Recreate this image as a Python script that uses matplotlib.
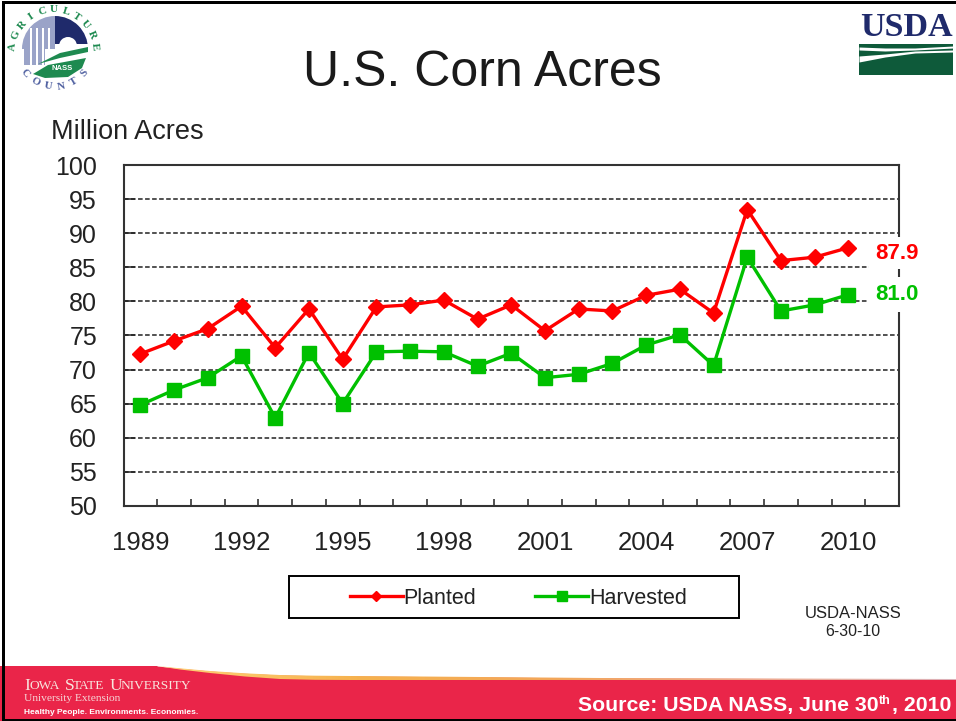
import matplotlib
matplotlib.use("Agg")
import matplotlib.pyplot as plt
import numpy as np
from matplotlib.patches import Circle, Polygon, Rectangle, Wedge

years = [str(y) for y in range(1989, 2011)]
planted = [72.3, 74.2, 76.0, 79.3, 73.2, 78.9, 71.5, 79.2, 79.5, 80.2, 77.4,
           79.5, 75.7, 78.9, 78.6, 80.9, 81.8, 78.3, 93.5, 86.0, 86.5, 87.9]
harvested = [64.8, 67.0, 68.8, 72.0, 62.9, 72.5, 65.0, 72.6, 72.7, 72.6, 70.5,
             72.4, 68.8, 69.3, 70.9, 73.6, 75.1, 70.6, 86.5, 78.6, 79.5, 81.0]
y_ticks = list(range(50, 101, 5))
x_label_every = 3
planted_label = "87.9"
harvested_label = "81.0"

RED = "#FF0000"
GREEN = "#00C000"
TEXT = "#222222"
NAVY = "#1F2A6B"
DARK_GREEN = "#0E5A3A"
LOGO_GREEN = "#1E8A50"
BAND = "#EA2549"
W, H = 956, 721

plt.rcParams["font.family"] = ["Liberation Sans", "DejaVu Sans"]
fig = plt.figure(figsize=(W / 100, H / 100), dpi=100, facecolor="white")

# overlay in pixel coordinates for the slide decoration
ov = fig.add_axes([0, 0, 1, 1], zorder=0)
ov.set_axis_off()


def arc_text(text, cx, cy, r, start, end, color, size):
    # angles in degrees, screen sense, 0 = up, clockwise positive
    for ch, a in zip(text, np.linspace(start, end, len(text))):
        t = np.radians(a)
        rot = -a if abs(a) < 90 else 180 - a
        ov.text(cx + r * np.sin(t), cy - r * np.cos(t), ch, color=color,
                fontsize=size, fontweight="bold", family="Liberation Serif",
                ha="center", va="center", rotation=rot)


# bottom band and swoosh
ov.add_patch(Rectangle((0, 666), W, 55, color=BAND, lw=0))
top_x = [157, 180, 210, 245, 280, 315, 350, 420, 600, 956]
top_y = [665] * len(top_x)
edge_y = [666, 668.3, 671, 673.3, 675, 675.7, 676, 676.5, 678, 679]
low_y = [666, 669.5, 673, 676.5, 679, 679.8, 680, 680, 680, 680]
ov.fill_between(top_x, top_y, edge_y, color="white", lw=0)
swoosh = Polygon(list(zip(top_x, edge_y)) + list(zip(top_x[::-1], low_y[::-1])),
                 closed=True, transform=ov.transData, fc="none", ec="none")
ov.add_patch(swoosh)
cmap = matplotlib.colors.LinearSegmentedColormap.from_list(
    "sw", ["#FFD27A", "#F6B24E", "#F3A65A", "#EFA98E", "#DDB0B8"])
grad = ov.imshow(np.linspace(0, 1, 256)[None, :], cmap=cmap, aspect="auto",
                 extent=(157, 956, 683, 665), zorder=1.5)
grad.set_clip_path(swoosh)

# Iowa State block
ISU = "#F8E6DE"
for s, px, big in [("I", 24, True), ("OWA", 30, False), ("S", 65, True), ("TATE", 73, False),
                   ("U", 110, True), ("NIVERSITY", 121, False)]:
    ov.text(px, 684.5, s, color=ISU, fontsize=12.5 if big else 9.6,
            family="Liberation Serif", va="center_baseline")
ov.text(24, 698.5, "University Extension", color="#F6D8D8", fontsize=8.2,
        family="Liberation Serif", va="center")
ov.text(24, 713, "Healthy People. Environments. Economies.", color="white",
        fontsize=6, fontweight="bold", va="center")

# source line
ov.text(879, 706, "Source: USDA NASS, June 30", color="white", fontsize=15.3,
        fontweight="bold", ha="right", va="center")
ov.text(879, 701.5, "th", color="white", fontsize=9, fontweight="bold",
        ha="left", va="center")
ov.text(951, 706, ", 2010", color="white", fontsize=15.3, fontweight="bold",
        ha="right", va="center")

# title and small texts
ov.text(482, 73, "U.S. Corn Acres", color="#1A1A1A", fontsize=36, ha="center", va="center")
ov.text(51, 132, "Million Acres", color=TEXT, fontsize=19.5, ha="left", va="center")
ov.text(853, 613, "USDA-NASS", color=TEXT, fontsize=12, ha="center", va="center")
ov.text(853, 632, "6-30-10", color=TEXT, fontsize=11.5, ha="center", va="center")

# USDA logo
ov.text(906.5, 28, "USDA", color=NAVY, fontsize=24.5, fontweight="bold",
        family="Liberation Serif", ha="center", va="center")
ov.add_patch(Rectangle((859, 44), 94, 31, color=DARK_GREEN, lw=0))
sw_x = np.array([859, 885, 915, 953])
ov.fill_between(sw_x, [47, 48, 48, 46], [50, 51, 50, 48], color="white", lw=0, zorder=1.6)
ov.fill_between(sw_x, [56, 54, 51, 50], [62, 57, 53, 52], color="white", lw=0, zorder=1.6)

# NASS logo
ov.add_patch(Circle((55, 49), 33, fc="white", ec="none"))
ov.add_patch(Wedge((55, 49), 33, 180, 270, fc="#9AA3C8", ec="none"))
ov.add_patch(Rectangle((24, 49), 21, 16, color="#9AA3C8", lw=0))
ov.add_patch(Wedge((55, 49), 33, 270, 360, fc=NAVY, ec="none"))
for bx in [30, 36, 42, 48]:
    ov.add_patch(Rectangle((bx, 28), 1.6, 38, color="white", lw=0, zorder=1.6))
ov.add_patch(Rectangle((55, 44), 34, 6, color="white", lw=0, zorder=1.6))
ov.add_patch(Wedge((68, 46), 9, 180, 360, fc="white", ec="none", zorder=1.6))
ov.add_patch(Polygon([(38, 64), (60, 53), (88, 47), (88, 52), (60, 58)], fc=LOGO_GREEN,
                     ec="none", zorder=1.7))
ov.add_patch(Polygon([(33, 74), (48, 65), (86, 58), (82, 68), (68, 77), (45, 78)],
                     fc=LOGO_GREEN, ec="none", zorder=1.7))
ov.text(62, 69, "NASS", color="white", fontsize=5.5, fontweight="bold", ha="center",
        va="center", zorder=2)
arc_text("AGRICULTURE", 54, 51, 41, -84, 84, LOGO_GREEN, 8)
arc_text("COUNTS", 54, 48, 39, 229, 129, "#4E5FA0", 8)

# slide border (no edge on the right in the reference)
ov.add_patch(Rectangle((2, 1), 3, H, color="black", lw=0, zorder=5))
ov.add_patch(Rectangle((2, 1), W, 3, color="black", lw=0, zorder=5))
ov.add_patch(Rectangle((2, 718.5), W, 3, color="black", lw=0, zorder=5))

# legend frame, same pixel space as the rest of the slide furniture
ov.add_patch(Rectangle((289, 576), 450, 42, fc="white", ec="black", lw=1.4))
ov.set_xlim(0, W)
ov.set_ylim(H, 0)

# chart
ax = fig.add_axes([123.5 / W, 1 - 505.7 / H, (899 - 123.5) / W, (505.7 - 165.3) / H], zorder=1)
x = np.arange(len(years))
ax.plot(x, planted, color=RED, lw=2.4, marker="D", ms=7.8, label="Planted", zorder=4)
ax.plot(x, harvested, color=GREEN, lw=2.4, marker="s", ms=10.5, label="Harvested", zorder=4)
ax.set_xlim(-0.5, len(years) + 0.5)
ax.set_ylim(y_ticks[0], y_ticks[-1])
ax.set_yticks(y_ticks)
ax.tick_params(axis="y", direction="in", length=8, width=1.1, color="#222222", pad=19,
               labelsize=18, labelcolor=TEXT)
ax.set_xticks(x[::x_label_every], years[::x_label_every])
ax.set_xticks(np.arange(0.5, len(years) + 0.5), minor=True)
ax.tick_params(axis="x", which="major", length=0, pad=18, labelsize=18.5, labelcolor=TEXT)
ax.tick_params(axis="x", which="minor", direction="in", length=5, width=1.2, color="#333333")
ax.grid(axis="y", color="#222222", ls=(0, (3, 1.6)), lw=1.1)
ax.set_axisbelow(True)
for s in ax.spines.values():
    s.set_linewidth(1.5)
    s.set_color("#333333")

ax.annotate(planted_label, (x[-1], planted[-1]), xytext=(19, -4), textcoords="offset points",
            color=RED, fontsize=16, fontweight="bold", va="center", annotation_clip=False,
            bbox=dict(fc="white", ec="none", pad=4), zorder=5)
ax.annotate(harvested_label, (x[-1], harvested[-1]), xytext=(19, 0), textcoords="offset points",
            color=GREEN, fontsize=16, fontweight="bold", va="center", annotation_clip=False,
            bbox=dict(fc="white", ec="none", pad=5), zorder=5)

leg = ax.legend(loc="center", bbox_to_anchor=(518.5 / W, 1 - 598.5 / H), bbox_transform=fig.transFigure,
                ncol=2, fontsize=15.5, frameon=False, markerscale=0.62, handlelength=2.46,
                handletextpad=0.05, columnspacing=2.74, borderpad=0, borderaxespad=0)
for t in leg.get_texts():
    t.set_color(TEXT)

fig.savefig("out.png", dpi=100)
